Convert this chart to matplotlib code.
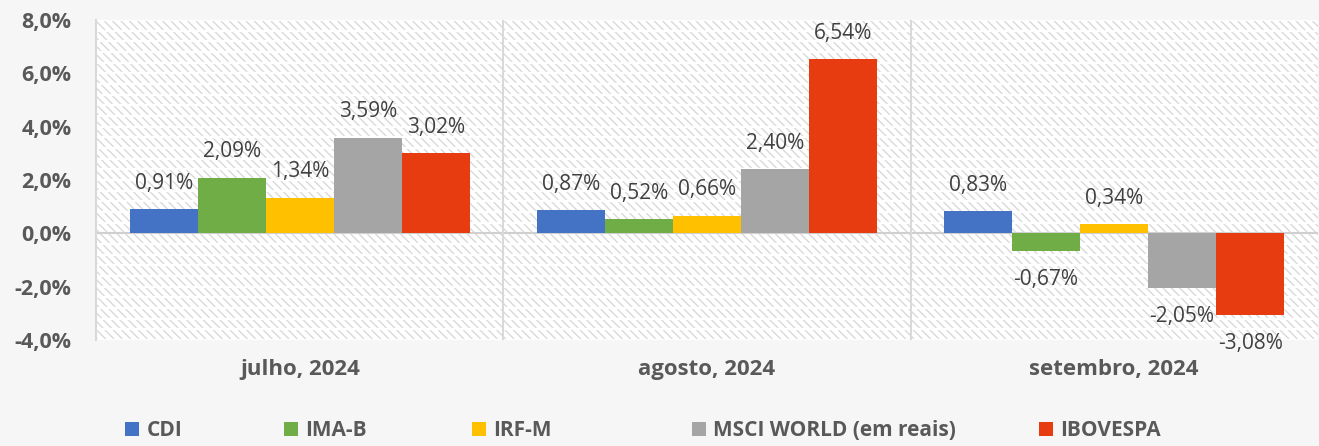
import numpy as np
import matplotlib.pyplot as plt
from matplotlib.patches import Rectangle
from matplotlib.ticker import FuncFormatter

plt.rcParams['font.family'] = ['Open Sans', 'DejaVu Sans']

meses = ["julho, 2024", "agosto, 2024", "setembro, 2024"]
series = ["CDI", "IMA-B", "IRF-M", "MSCI WORLD (em reais)", "IBOVESPA"]
cdi = [0.91, 0.87, 0.83]
ima_b = [2.09, 0.52, -0.67]
irf_m = [1.34, 0.66, 0.34]
msci = [3.59, 2.40, -2.05]
ibov = [3.02, 6.54, -3.08]
cores = ["#4472C4", "#70AD47", "#FFC000", "#A5A5A5", "#E63C10"]

valores = [cdi, ima_b, irf_m, msci, ibov]

fig = plt.figure(figsize=(13.19, 4.46), dpi=100, facecolor="#f6f6f6")
ax = fig.add_axes([0.073, 0.238, 0.926, 0.717])
ax.set_facecolor("white")

# fundo hachurado
bg = Rectangle((0, 0), 1, 1, transform=ax.transAxes, facecolor="white",
               edgecolor="#d9d9d9", hatch="\\\\\\\\", linewidth=0, zorder=0)
ax.add_patch(bg)
for yy in np.arange(-4, 8.01, 0.4):
    ax.axhline(yy, color="white", lw=1.6, zorder=0.5)

x = np.arange(len(meses))
w = 0.167
barras = []
for i, (nome, vals, cor) in enumerate(zip(series, valores, cores)):
    pos = x + (i - 2) * w
    b = ax.bar(pos, vals, width=w, color=cor, label=nome, zorder=2)
    barras.append(b)
    for px, v in zip(pos, vals):
        txt = f"{v:.2f}%".replace(".", ",")
        if v >= 0:
            ax.annotate(txt, (px, v), xytext=(0, 11), textcoords="offset points",
                        ha="center", va="bottom", fontsize=15, color="#404040", zorder=3)
        else:
            ax.annotate(txt, (px, v), xytext=(0, -13), textcoords="offset points",
                        ha="center", va="top", fontsize=15, color="#404040", zorder=3)

ax.set_xlim(-0.5, 2.5)
ax.set_ylim(-4, 8)
ax.set_yticks(np.arange(-4, 8.1, 2))
ax.yaxis.set_major_formatter(FuncFormatter(lambda v, p: f"{v:.1f}%".replace(".", ",")))
ax.set_xticks(x)
ax.set_xticklabels(meses)
ax.tick_params(axis="y", length=0, labelsize=15.5, labelcolor="#595959", pad=18)
ax.tick_params(axis="x", length=0, labelsize=16, labelcolor="#595959", pad=14)
for lab in ax.get_xticklabels() + ax.get_yticklabels():
    lab.set_fontweight("bold")

ax.axhline(0, color="#d0d0d0", lw=1.5, zorder=1)
for xv in [0.5, 1.5]:
    ax.axvline(xv, color="#d9d9d9", lw=1.5, zorder=1)
for s in ["top", "right", "bottom"]:
    ax.spines[s].set_visible(False)
ax.spines["left"].set_color("#d9d9d9")
ax.spines["left"].set_linewidth(1.5)

# legenda: uma entrada por posição, como no Excel
leg_x = [0.0948, 0.2153, 0.3578, 0.5246, 0.7877]
for b, nome, lx in zip(barras, series, leg_x):
    leg = fig.legend([b], [nome], loc="center left", bbox_to_anchor=(lx, 0.034),
                     frameon=False, handlelength=0.67, handleheight=0.67,
                     handletextpad=0.35, borderpad=0, borderaxespad=0,
                     prop={"weight": "bold", "size": 15})
    for t in leg.get_texts():
        t.set_color("#595959")

fig.savefig("out.png", dpi=100, facecolor=fig.get_facecolor())
